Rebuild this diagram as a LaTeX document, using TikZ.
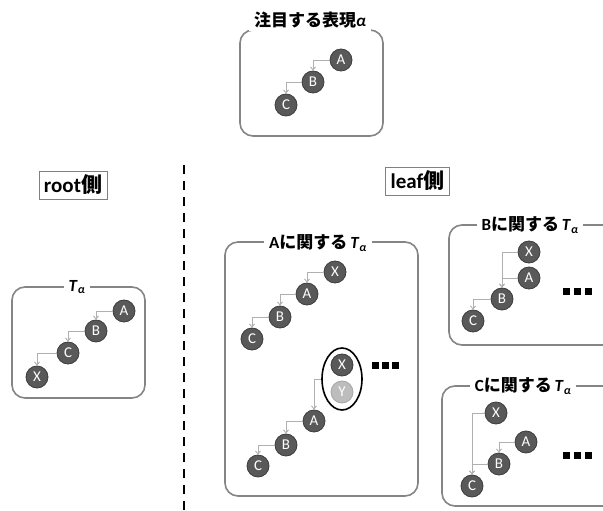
\documentclass[tikz,border=0pt]{standalone}
\usepackage{fontspec}
\setmainfont{Carlito}
\newfontfamily\jp{Noto Sans CJK JP}
\usetikzlibrary{arrows.meta,shapes.geometric}
\definecolor{ndfill}{HTML}{595959}
\definecolor{ndline}{HTML}{3C3C3C}
\definecolor{yfill}{HTML}{BDBDBD}
\definecolor{yline}{HTML}{A5A5A5}
\definecolor{conngray}{HTML}{B0B0B0}
\definecolor{framegray}{HTML}{858585}
\newcommand\myTa{\textbf{\textit{T}}\textsubscript{\textit{α}}}
\begin{document}
\begin{tikzpicture}[x=1pt,y=-1pt,
  nd/.style={circle, fill=ndfill, draw=ndline, line width=0.8pt, minimum size=22pt, inner sep=0pt, text=white, font=\fontsize{15}{15}\selectfont},
  ndy/.style={nd, fill=yfill, draw=yline},
  conn/.style={draw=conngray, line width=0.9pt, -{Straight Barb[length=3pt,width=5pt]}},
  frame/.style={draw=framegray, line width=1.6pt, rounded corners=13pt},
  ttl/.style={fill=white, inner xsep=5pt, inner ysep=1pt, font=\bfseries\fontsize{17}{18}\selectfont},
  sidebox/.style={draw=gray, line width=0.8pt, inner xsep=5pt, inner ysep=4pt, font=\bfseries\fontsize{21}{22}\selectfont},
  dotsq/.style={fill=black}
]
\useasboundingbox (0,0) rectangle (603,511);

% ---------- top box ----------
\draw[frame] (240,30) rectangle (383,136);
\node[ttl, inner ysep=3pt] (toptitle) at (310,20) {{\jp 注目する表現}\textit{α}};
\node[nd] (tA) at (341,60) {A};
\node[nd] (tB) at (313,82) {B};
\node[nd] (tC) at (286,105) {C};
\draw[conn] (tA.west) -| (tB.north);
\draw[conn] (tB.west) -| (tC.north);

% ---------- side labels ----------
\node[sidebox] (root) at (73,185) {root{\jp 側}};
\node[sidebox] (leaf) at (417.5,181) {leaf{\jp 側}};

% ---------- dashed divider ----------
\coordinate (d1) at (184,165);
\coordinate (d2) at (184,511);
\draw[line width=2.6pt, dash pattern=on 9pt off 7pt] (d1) -- (d2);

% ---------- root T box ----------
\draw[frame] (12,287) rectangle (145,398);
\node[ttl] (rtitle) at (77,287) {\myTa};
\node[nd] (rA) at (124,311) {A};
\node[nd] (rB) at (96,331) {B};
\node[nd] (rC) at (68,353) {C};
\node[nd] (rX) at (37,377) {X};
\draw[conn] (rA.west) -| (rB.north);
\draw[conn] (rB.west) -| (rC.north);
\draw[conn] (rC.west) -| (rX.north);

% ---------- A box ----------
\draw[frame] (225,242) rectangle (418,496);
\node[ttl] (atitle) at (318,243) {A{\jp に関する}\,\myTa};
\node[nd] (aX) at (335,272) {X};
\node[nd] (aA) at (307,294) {A};
\node[nd] (aB) at (280,317) {B};
\node[nd] (aC) at (252,339) {C};
\draw[conn] (aX.west) -| (aA.north);
\draw[conn] (aA.west) -| (aB.north);
\draw[conn] (aB.west) -| (aC.north);
\node[nd] (aX2) at (342,365) {X};
\node[ndy] (aY2) at (342,392) {Y};
\node[ellipse, draw=black, line width=1.6pt, minimum width=40pt, minimum height=62pt, inner sep=0pt] (ell) at (342,379) {};
\node[nd] (aA2) at (314,421) {A};
\node[nd] (aB2) at (286,445) {B};
\node[nd] (aC2) at (258,466) {C};
\draw[conn] (ell.west) -| (aA2.north);
\draw[conn] (aA2.west) -| (aB2.north);
\draw[conn] (aB2.west) -| (aC2.north);
\foreach \i in {0,1,2} \fill[dotsq] (372+\i*10,362) rectangle ++(7,7);

% ---------- B box ----------
\draw[frame] (449,225) rectangle (616,345);
\node[ttl] (btitle) at (530,225) {B{\jp に関する}\,\myTa};
\node[nd] (bX) at (529,252) {X};
\node[nd] (bA) at (529,278) {A};
\node[nd] (bB) at (502,299) {B};
\node[nd] (bC) at (473,321) {C};
\draw[conn] (bX.west) -| (bB.north);
\draw[conn] (bA.west) -| (bB.north);
\draw[conn] (bB.west) -| (bC.north);
\foreach \i in {0,1,2} \fill[dotsq] (563+\i*11,288) rectangle ++(7,7);

% ---------- C box ----------
\draw[frame] (442,386) rectangle (616,506);
\node[ttl] (ctitle) at (523,386) {C{\jp に関する}\,\myTa};
\node[nd] (cX) at (496,413) {X};
\node[nd] (cA) at (526,442) {A};
\node[nd] (cB) at (499,464) {B};
\node[nd] (cC) at (472,486) {C};
\draw[conn] (cX.west) -| (cC.north);
\draw[conn] (cA.west) -| (cB.north);
\draw[conn] (cB.west) -| (cC.north);
\foreach \i in {0,1,2} \fill[dotsq] (563+\i*11,452) rectangle ++(7,7);
\end{tikzpicture}
\end{document}
